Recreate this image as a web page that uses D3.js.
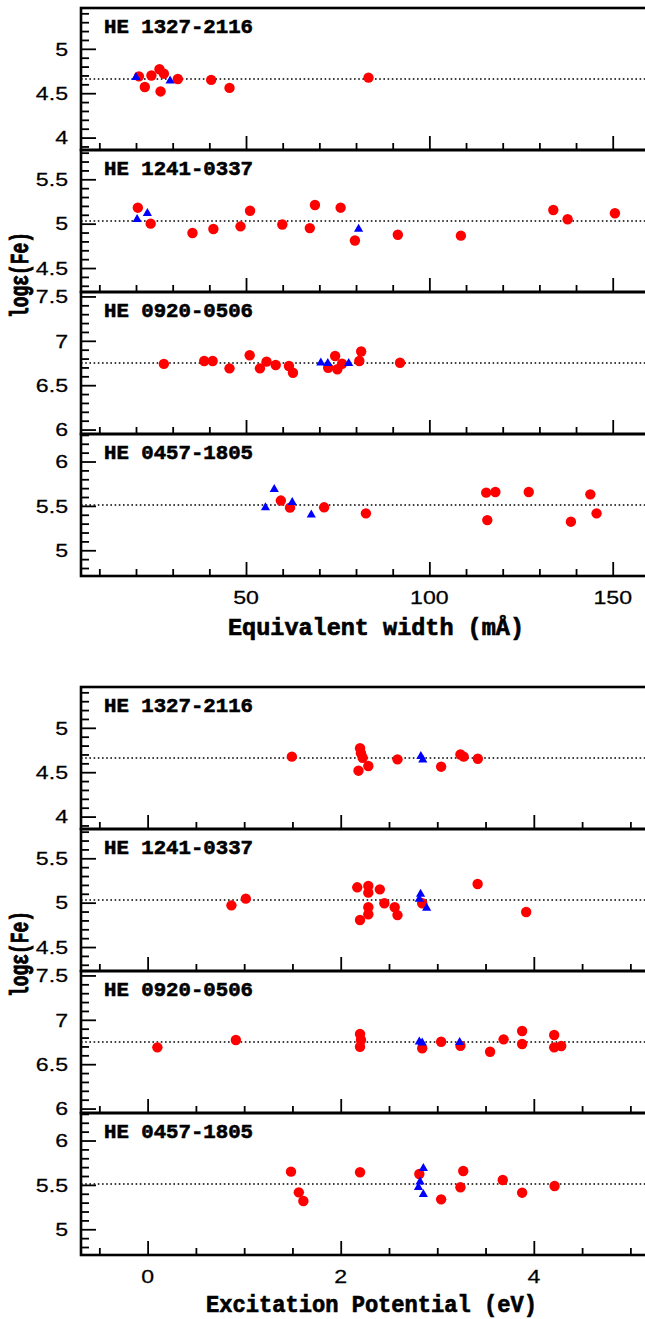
<!DOCTYPE html>
<html>
<head>
<meta charset="utf-8">
<script src="https://cdn.jsdelivr.net/npm/d3@7"></script>
<style>
  body { margin: 0; background: #fff; }
</style>
</head>
<body>
<script>
const stars = ["HE 1327-2116", "HE 1241-0337", "HE 0920-0506", "HE 0457-1805"];
const meanFe = [4.66, 5.03, 6.75, 5.51];

// equivalent width (mA), log eps
const ewFeI_1327 = [[20.8,4.69],[22.4,4.57],[24.2,4.70],[26.4,4.77],[27.6,4.72],[26.7,4.52],[31.4,4.66],[40.5,4.65],[45.5,4.56],[83.4,4.675]];
const ewFeII_1327 = [[20.0,4.68],[29.3,4.64]];
const ewFeI_1241 = [[20.5,5.18],[24.0,5.00],[35.4,4.895],[41.1,4.94],[48.5,4.97],[51.1,5.146],[59.9,4.99],[67.4,4.95],[68.8,5.21],[75.8,5.18],[79.7,4.81],[91.4,4.875],[108.6,4.865],[133.8,5.154],[137.7,5.05],[150.6,5.117]];
const ewFeII_1241 = [[20.3,5.05],[23.1,5.117],[80.7,4.94]];
const ewFeI_0920 = [[27.6,6.74],[38.6,6.773],[40.9,6.773],[45.5,6.69],[51.0,6.837],[53.8,6.69],[55.6,6.765],[58.1,6.727],[61.7,6.716],[62.8,6.64],[72.4,6.697],[74.3,6.829],[74.9,6.68],[76.2,6.742],[80.9,6.773],[81.4,6.88],[92.0,6.753]];
const ewFeII_0920 = [[70.4,6.753],[72.3,6.746],[78.0,6.746]];
const ewFeI_0457 = [[59.5,5.56],[62.0,5.48],[71.3,5.484],[82.7,5.416],[115.5,5.649],[115.8,5.34],[118.0,5.656],[127.1,5.656],[138.6,5.322],[143.9,5.63],[145.6,5.416]];
const ewFeII_0457 = [[55.3,5.48],[57.7,5.687],[62.6,5.54],[67.8,5.40]];

// excitation potential (eV), log eps
const epFeI_1327 = [[1.494,4.675],[2.20,4.77],[2.21,4.713],[2.227,4.663],[2.184,4.517],[2.286,4.57],[2.588,4.645],[3.04,4.562],[3.24,4.70],[3.274,4.675],[3.42,4.652]];
const epFeII_1327 = [[2.83,4.68],[2.85,4.64]];
const epFeI_1241 = [[0.868,4.97],[1.017,5.045],[2.171,5.173],[2.286,5.188],[2.286,5.113],[2.405,5.15],[2.286,4.948],[2.286,4.869],[2.20,4.805],[2.452,4.993],[2.559,4.948],[2.588,4.86],[2.844,4.993],[3.418,5.21],[3.921,4.895]];
const epFeII_1241 = [[2.827,5.098],[2.814,5.04],[2.89,4.94]];
const epFeI_0920 = [[0.101,6.69],[0.914,6.773],[2.20,6.84],[2.21,6.773],[2.20,6.697],[2.844,6.679],[3.04,6.753],[3.24,6.708],[3.547,6.64],[3.687,6.78],[3.879,6.874],[3.879,6.727],[4.211,6.829],[4.211,6.69],[4.284,6.705]];
const epFeII_0920 = [[2.814,6.753],[2.844,6.742],[3.232,6.746]];
const epFeI_0457 = [[1.485,5.649],[1.566,5.416],[1.613,5.318],[2.20,5.642],[2.814,5.623],[3.04,5.337],[3.24,5.473],[3.269,5.657],[3.678,5.555],[3.879,5.412],[4.215,5.487]];
const epFeII_0457 = [[2.856,5.687],[2.822,5.536],[2.805,5.473],[2.856,5.394]];

const ewMajor = [50, 100, 150];
const ewMinor = [10, 20, 30, 40, 60, 70, 80, 90, 110, 120, 130, 140, 160];
const epMajor = [0, 2, 4];
const epMinor = [-0.5, 0.5, 1, 1.5, 2.5, 3, 3.5, 4.5, 5];

const width = 645, height = 1319;
const left = 81, panelH = 142;

const svg = d3.select("body").append("svg")
  .attr("width", width)
  .attr("height", height);

const groups = [
  {
    top: 8,
    x: d3.scaleLinear().domain([5, 160]).range([left, left + 155 * 3.667]),
    major: ewMajor, minor: ewMinor,
    feI: [ewFeI_1327, ewFeI_1241, ewFeI_0920, ewFeI_0457],
    feII: [ewFeII_1327, ewFeII_1241, ewFeII_0920, ewFeII_0457],
    title: "Equivalent width (mÅ)", titleX: 228, titleLen: 296, titleY: 635
  },
  {
    top: 687,
    x: d3.scaleLinear().domain([-0.69, 5.2]).range([left, left + 5.89 * 96.55]),
    major: epMajor, minor: epMinor,
    feI: [epFeI_1327, epFeI_1241, epFeI_0920, epFeI_0457],
    feII: [epFeII_1327, epFeII_1241, epFeII_0920, epFeII_0457],
    title: "Excitation Potential (eV)", titleX: 206, titleLen: 331, titleY: 1312
  }
];

const boldFont = "'Liberation Mono', 'DejaVu Sans Mono', monospace";
const numFont = "'Liberation Sans', Arial, sans-serif";

function numLabel(g, x, y, txt, anchor) {
  g.append("text")
    .attr("transform", `translate(${x},${y}) scale(1.25,1)`)
    .attr("text-anchor", anchor)
    .attr("font-family", numFont)
    .attr("font-size", 18.5)
    .attr("fill", "#000")
    .attr("stroke", "#000").attr("stroke-width", 0.25)
    .text(txt);
}

function tri(cx, cy) {
  return `M${cx},${cy - 5.3}L${cx - 4.6},${cy + 2.7}L${cx + 4.6},${cy + 2.7}Z`;
}

groups.forEach((grp) => {
  const x = grp.x;
  const g = svg.append("g");

  stars.forEach((name, i) => {
    const top = grp.top + i * panelH;
    const m = meanFe[i];
    const y = d3.scaleLinear().domain([m - 0.8, m + 0.8]).range([top + panelH, top]);
    const p = g.append("g");

    // mean line
    p.append("line")
      .attr("x1", left).attr("x2", width)
      .attr("y1", y(m)).attr("y2", y(m))
      .attr("stroke", "#000")
      .attr("stroke-width", 1.6)
      .attr("stroke-dasharray", "1.6,2.6");

    // x ticks (inside, bottom)
    p.append("g")
      .attr("transform", `translate(0,${top + panelH})`)
      .call(d3.axisBottom(x).tickValues(grp.major).tickSize(-14).tickFormat(""))
      .call((a) => a.select(".domain").remove())
      .call((a) => a.selectAll("line").attr("stroke-width", 1.8));
    p.append("g")
      .attr("transform", `translate(0,${top + panelH})`)
      .call(d3.axisBottom(x).tickValues(grp.minor).tickSize(-7).tickFormat(""))
      .call((a) => a.select(".domain").remove())
      .call((a) => a.selectAll("line").attr("stroke-width", 1.8));

    // y ticks (inside, left)
    const lo = m - 0.8, hi = m + 0.8;
    const yMinor = [], yMajor = [];
    for (let k = Math.ceil(lo * 10 - 1e-6); k <= Math.floor(hi * 10 + 1e-6); k++) {
      if (k % 5 === 0) yMajor.push(k / 10); else yMinor.push(k / 10);
    }
    p.append("g")
      .attr("transform", `translate(${left},0)`)
      .call(d3.axisLeft(y).tickValues(yMajor).tickSize(-15).tickFormat(""))
      .call((a) => a.select(".domain").remove())
      .call((a) => a.selectAll("line").attr("stroke-width", 1.8));
    p.append("g")
      .attr("transform", `translate(${left},0)`)
      .call(d3.axisLeft(y).tickValues(yMinor).tickSize(-8).tickFormat(""))
      .call((a) => a.select(".domain").remove())
      .call((a) => a.selectAll("line").attr("stroke-width", 1.8));

    yMajor.forEach((v) => numLabel(p, 68, y(v) + 6.8, d3.format("~g")(v), "end"));

    // frame (right edge falls outside the picture)
    p.append("rect")
      .attr("x", left).attr("y", top)
      .attr("width", width + 20 - left).attr("height", panelH)
      .attr("fill", "none")
      .attr("stroke", "#000")
      .attr("stroke-width", 2.6);

    // Fe I
    p.append("g").selectAll("circle")
      .data(grp.feI[i]).enter().append("circle")
      .attr("cx", (d) => x(d[0]))
      .attr("cy", (d) => y(d[1]))
      .attr("r", 5.2)
      .attr("fill", "#ff0000");

    // Fe II
    p.append("g").selectAll("path")
      .data(grp.feII[i]).enter().append("path")
      .attr("d", (d) => tri(x(d[0]), y(d[1])))
      .attr("fill", "#0000ff");

    // star name
    p.append("text")
      .attr("x", 104).attr("y", top + 25)
      .attr("font-family", boldFont)
      .attr("font-weight", "bold")
      .attr("font-size", 20.5)
      .attr("stroke", "#000").attr("stroke-width", 0.6)
      .attr("textLength", 149).attr("lengthAdjust", "spacingAndGlyphs")
      .text(name);
  });

  const bottom = grp.top + 4 * panelH;
  grp.major.forEach((v) => numLabel(g, x(v), bottom + 27.5, d3.format("~g")(v), "middle"));

  g.append("text")
    .attr("x", grp.titleX).attr("y", grp.titleY)
    .attr("font-family", boldFont)
    .attr("font-weight", "bold")
    .attr("font-size", 24)
    .attr("stroke", "#000").attr("stroke-width", 0.7)
    .attr("textLength", grp.titleLen).attr("lengthAdjust", "spacingAndGlyphs")
    .text(grp.title);

  g.append("text")
    .attr("transform", `translate(28,${grp.top + 2 * panelH - 17}) rotate(-90)`)
    .attr("text-anchor", "middle")
    .attr("font-family", boldFont)
    .attr("font-weight", "bold")
    .attr("font-size", 25)
    .attr("stroke", "#000").attr("stroke-width", 0.9)
    .attr("textLength", 86).attr("lengthAdjust", "spacingAndGlyphs")
    .text("logε(Fe)");
});
</script>
</body>
</html>
